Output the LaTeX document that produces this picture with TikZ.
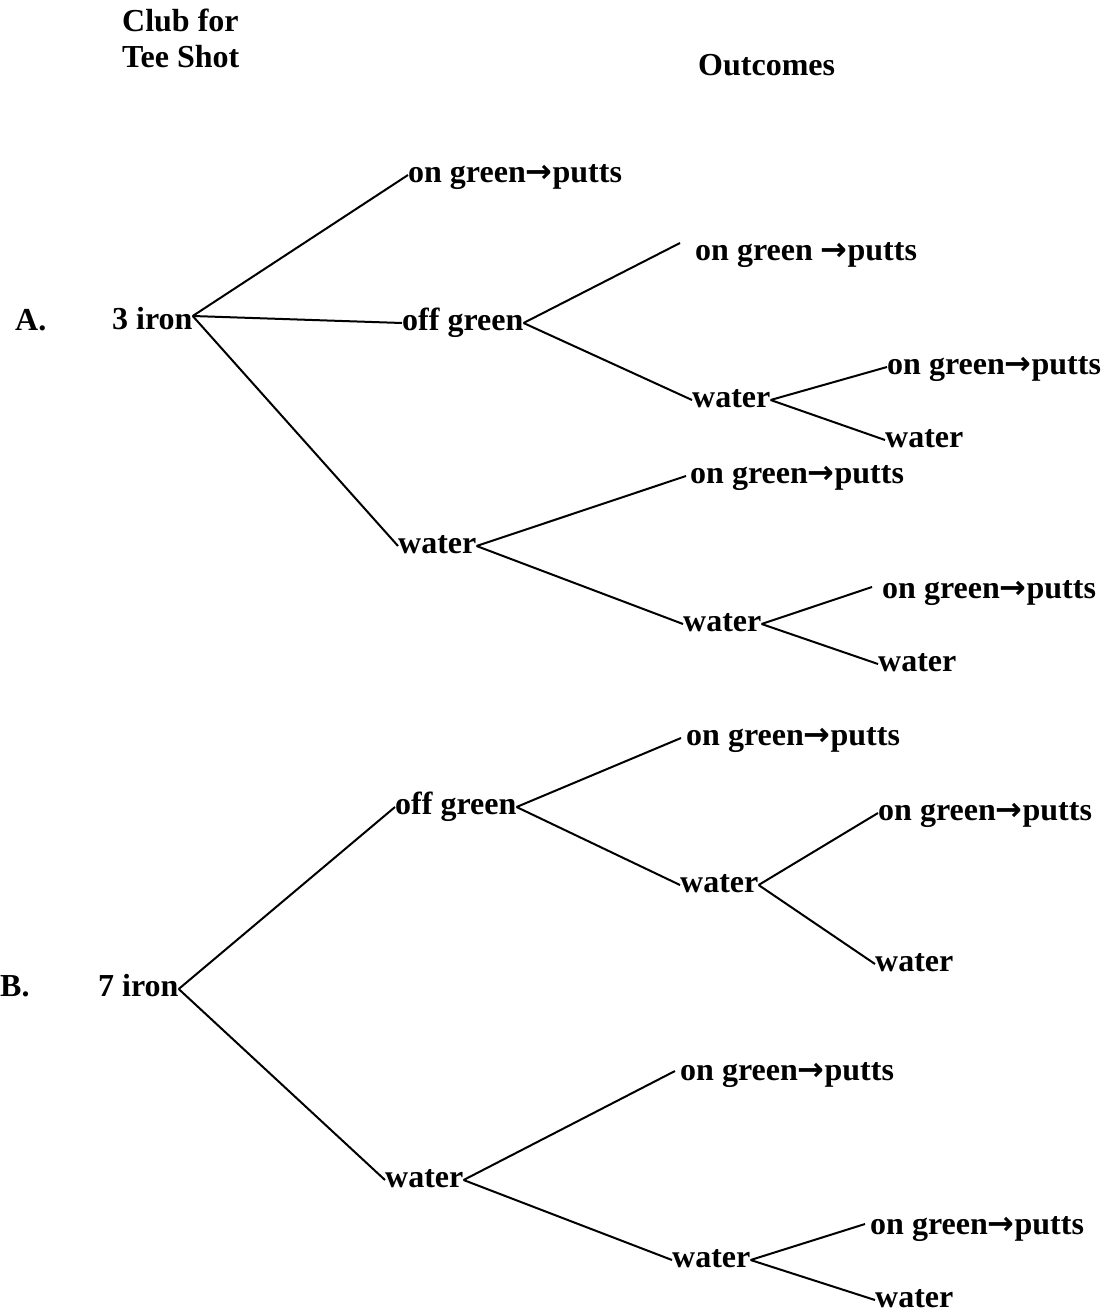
\documentclass[tikz,border=0pt]{standalone}
\usepackage{fontspec}
\setmainfont{Liberation Serif}
\newfontfamily\arrowfont{DejaVu Sans}
\newcommand\gArr{{\arrowfont\bfseries →}}
\begin{document}
\begin{tikzpicture}[x=1pt,y=-1pt,
  lbl/.style={font=\bfseries\fontsize{32}{38}\selectfont, inner sep=0pt, anchor=west,
              text height=22pt, text depth=8pt},
  br/.style={line width=2pt, black}]
\useasboundingbox (0,0) rectangle (1112,1314);
% headers
\node[lbl] (h1) at (122,25) {Club for};
\node[lbl] (h2) at (122,60) {Tee Shot};
\node[lbl] (h3) at (698,69) {Outcomes};
% tree A
\node[lbl] (A) at (15,323) {A.};
\node[lbl] (i3) at (112,322) {3 iron};
\node[lbl] (a1) at (408,175) {on green\gArr putts};
\node[lbl] (a2) at (402,323) {off green};
\node[lbl] (a3) at (398,546) {water};
\node[lbl] (a21) at (695,253) {on green \gArr putts};
\node[lbl] (a22) at (692,400) {water};
\node[lbl] (a221) at (887,367) {on green\gArr putts};
\node[lbl] (a222) at (885,440) {water};
\node[lbl] (a31) at (690,476) {on green\gArr putts};
\node[lbl] (a32) at (683,624) {water};
\node[lbl] (a321) at (882,591) {on green\gArr putts};
\node[lbl] (a322) at (878,664) {water};
% tree B
\node[lbl] (B) at (0,989) {B.};
\node[lbl] (i7) at (98,989) {7 iron};
\node[lbl] (b1) at (395,807) {off green};
\node[lbl] (b2) at (385,1180) {water};
\node[lbl] (b11) at (686,738) {on green\gArr putts};
\node[lbl] (b12) at (680,885) {water};
\node[lbl] (b121) at (878,813) {on green\gArr putts};
\node[lbl] (b122) at (875,964) {water};
\node[lbl] (b21) at (680,1073) {on green\gArr putts};
\node[lbl] (b22) at (672,1260) {water};
\node[lbl] (b221) at (870,1227) {on green\gArr putts};
\node[lbl] (b222) at (875,1300) {water};
% branches A
\draw[br] ([yshift=6pt]i3.east) -- (a1.west);
\draw[br] ([yshift=6pt]i3.east) -- (a2.west);
\draw[br] ([yshift=6pt]i3.east) -- (a3.west);
\draw[br] (a2.east) -- ([xshift=-15pt,yshift=10pt]a21.west);
\draw[br] (a2.east) -- (a22.west);
\draw[br] (a22.east) -- (a221.west);
\draw[br] (a22.east) -- (a222.west);
\draw[br] (a3.east) -- ([xshift=-4pt]a31.west);
\draw[br] (a3.east) -- (a32.west);
\draw[br] (a32.east) -- ([xshift=-10pt,yshift=4pt]a321.west);
\draw[br] (a32.east) -- (a322.west);
% branches B
\draw[br] (i7.east) -- (b1.west);
\draw[br] (i7.east) -- (b2.west);
\draw[br] (b1.east) -- ([xshift=-5pt]b11.west);
\draw[br] (b1.east) -- (b12.west);
\draw[br] (b12.east) -- (b121.west);
\draw[br] (b12.east) -- (b122.west);
\draw[br] (b2.east) -- ([xshift=-5pt,yshift=2pt]b21.west);
\draw[br] (b2.east) -- (b22.west);
\draw[br] (b22.east) -- ([xshift=-5pt,yshift=3pt]b221.west);
\draw[br] (b22.east) -- (b222.west);
\end{tikzpicture}
\end{document}
